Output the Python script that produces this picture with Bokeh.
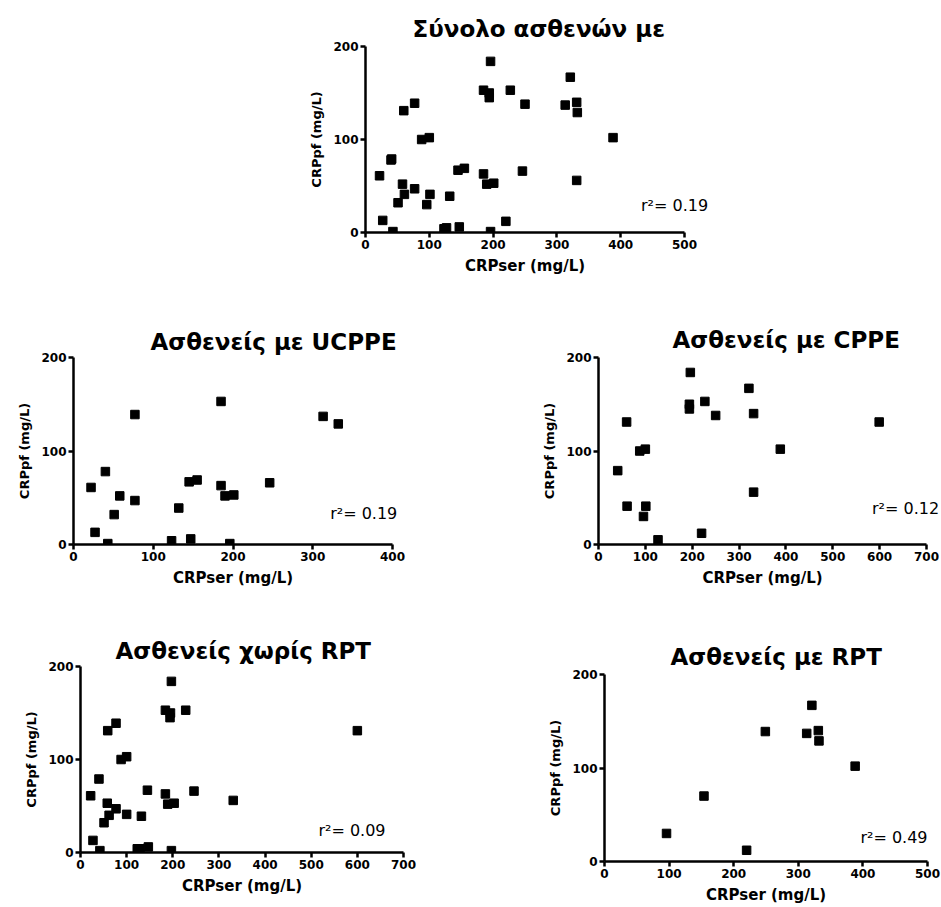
from bokeh.plotting import figure
from bokeh.models import Range1d, FixedTicker, Label, Spacer, Title
from bokeh.layouts import column, row
from bokeh.embed import file_html
from bokeh.resources import INLINE

# ---- data (CRPser, CRPpf in mg/L) ----
ucppe_x = [22, 27, 40, 43, 51, 58, 77, 77, 123, 132, 145, 147, 155, 185, 185, 190, 196, 201, 246, 313, 332]
ucppe_y = [61, 13, 78, 1, 32, 52, 139, 47, 4, 39, 67, 6, 69, 153, 63, 52, 1, 53, 66, 137, 129]

cppe_x = [41, 60, 61, 88, 100, 96, 101, 127, 196, 194, 194, 227, 250, 220, 321, 331, 331, 388, 599]
cppe_y = [79, 131, 41, 100, 102, 30, 41, 5, 184, 150, 145, 153, 138, 12, 167, 140, 56, 102, 131]

rpt_x = [96, 154, 220, 249, 313, 321, 331, 332, 388]
rpt_y = [30, 70, 12, 139, 137, 167, 140, 129, 102]

norpt_x = [22, 27, 40, 42, 51, 58, 59, 62, 77, 77, 88, 100, 100, 123, 129, 132, 145, 147,
           184, 184, 189, 195, 194, 197, 197, 203, 228, 246, 331, 600]
norpt_y = [61, 13, 79, 2, 32, 53, 131, 40, 139, 47, 100, 103, 41, 4, 4, 39, 67, 6,
           153, 63, 52, 150, 145, 184, 2, 53, 153, 66, 56, 131]

total_x = ucppe_x + cppe_x
total_y = ucppe_y + cppe_y

titles = ["Σύνολο ασθενών με", "Ασθενείς με UCPPE", "Ασθενείς με CPPE",
          "Ασθενείς χωρίς RPT", "Ασθενείς με RPT"]
r2_texts = ["r²= 0.19", "r²= 0.19", "r²= 0.12", "r²= 0.09", "r²= 0.49"]
x_max = [500, 400, 700, 700, 500]
y_max = 200
y_ticks = [0, 100, 200]
x_label = "CRPser (mg/L)"
y_label = "CRPpf (mg/L)"

FONT = "DejaVu Sans"
XLABEL_HALF_W = 60


def panel(title, xs, ys, xmax, r2, width, height, left, top,
          x_len, x_ext, y_len, title_offset, title_standoff, r2_x, r2_y):
    right = width - left - x_len - x_ext
    bottom = height - top - y_len
    x_end = xmax + x_ext * xmax / x_len
    p = figure(width=width, height=height,
               x_range=Range1d(0, x_end), y_range=Range1d(0, y_max),
               output_backend="svg", toolbar_location=None,
               min_border_left=left, min_border_right=right,
               min_border_top=top, min_border_bottom=bottom)
    p.outline_line_color = None
    p.grid.visible = False
    p.background_fill_color = "white"
    p.border_fill_color = "white"

    p.scatter(xs, ys, marker="square", size=8.5, fill_color="black",
              line_color="black")

    p.xaxis.ticker = FixedTicker(ticks=list(range(0, xmax + 1, 100)))
    p.yaxis.ticker = FixedTicker(ticks=y_ticks)
    p.xaxis.bounds = (0, xmax)
    p.yaxis.axis_label = y_label
    for ax in (p.xaxis, p.yaxis):
        ax.axis_line_width = 2.5
        ax.axis_line_color = "black"
        ax.major_tick_line_width = 2.5
        ax.major_tick_line_color = "black"
        ax.major_tick_out = 5
        ax.major_tick_in = 0
        ax.minor_tick_line_color = None
        ax.major_label_text_font = FONT
        ax.major_label_text_font_style = "bold"
        ax.major_label_text_font_size = "12px"
        ax.major_label_text_color = "black"
        ax.major_label_standoff = 2
        ax.axis_label_text_font = FONT
        ax.axis_label_text_font_style = "bold"
        ax.axis_label_text_color = "black"
    p.yaxis.axis_label_text_font_size = "13px"
    p.yaxis.axis_label_standoff = 6

    # x-axis label, centred under the drawn axis (not the extended frame)
    p.add_layout(Title(text=x_label, align="left",
                       offset=x_len / 2 - XLABEL_HALF_W,
                       text_font=FONT, text_font_style="bold",
                       text_font_size="15px", text_color="black",
                       standoff=7), "below")

    p.title.text = title
    p.title.align = "left"
    p.title.offset = title_offset
    p.title.text_font = FONT
    p.title.text_font_style = "bold"
    p.title.text_font_size = "23px"
    p.title.text_color = "black"
    p.title.standoff = title_standoff

    p.add_layout(Label(x=r2_x, y=r2_y, text=r2, text_align="right",
                       text_baseline="middle", text_font=FONT,
                       text_font_size="16px", text_color="black"))
    return p


p1 = panel(titles[0], total_x, total_y, x_max[0], r2_texts[0],
           440, 290, 75, 46, 319, 30, 186, 47, 9, 537, 29)
p2 = panel(titles[1], ucppe_x, ucppe_y, x_max[1], r2_texts[1],
           500, 300, 73, 67, 319, 10, 187, 77, 5, 406, 33)
p3 = panel(titles[2], cppe_x, cppe_y, x_max[2], r2_texts[2],
           441, 300, 98, 67, 328, 14, 187, 74, 10, 727, 39)
p4 = panel(titles[3], norpt_x, norpt_y, x_max[3], r2_texts[3],
           500, 317, 80, 76, 323, 0, 186, 35, 6, 661, 24)
p5 = panel(titles[4], rpt_x, rpt_y, x_max[4], r2_texts[4],
           441, 309, 104, 76, 323, 12, 187, 66, 10, 500, 26)

layout = column(row(Spacer(width=290, height=290), p1),
                row(p2, p3),
                row(column(p4), column(Spacer(width=441, height=8), p5)))

open("out.html", "w").write(file_html(layout, INLINE))
